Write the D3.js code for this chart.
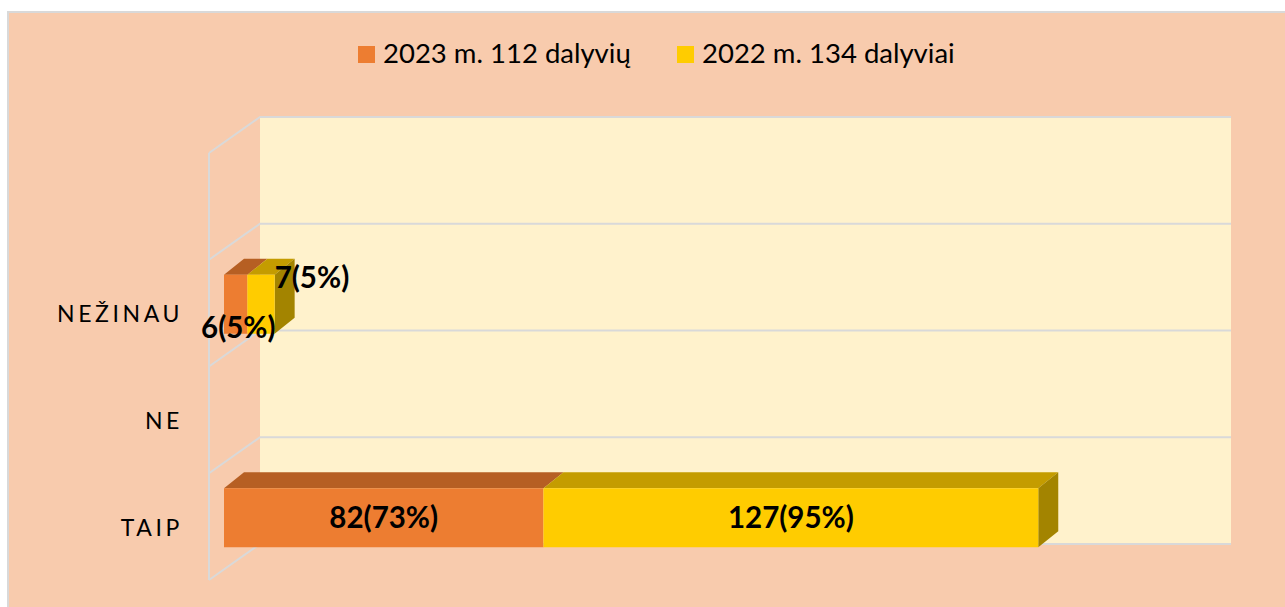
<!DOCTYPE html>
<html>
<head>
<meta charset="utf-8">
<script src="https://cdn.jsdelivr.net/npm/d3@7"></script>
<style>
  body { margin: 0; background: #fff; }
  svg { display: block; font-family: Lato, "Open Sans", sans-serif; }
</style>
</head>
<body>
<script>
// ---------------------------------------------------------------
// data
// ---------------------------------------------------------------
var categories = ["TAIP", "NE", "NEŽINAU"]
var seriesNames = ["2023 m. 112 dalyvių", "2022 m. 134 dalyviai"]
var values2023 = [82, 0, 6]
var values2022 = [127, 0, 7]
var labels2023 = ["82(73%)", "", "6(5%)"]
var labels2022 = ["127(95%)", "", "7(5%)"]
var valueMax = 250

var colors = [
  {front: "#ED7D31", top: "#B65F23", side: "#9E5222"},
  {front: "#FFCC00", top: "#C49C00", side: "#A38400"}
]

// ---------------------------------------------------------------
// layout
// ---------------------------------------------------------------
var W = 1285, H = 607
var wall = {x0: 260, x1: 1234, y0: 117, y1: 544}
var depth = {dx: -51, dy: 36}      // back wall -> front edge of side wall
var barFront = {dx: -36}           // bar front face, relative to back wall
var barDepth = {dx: 20, dy: -16}   // front face -> back face of a bar
var barOff = 15, barH = 59

var svg = d3.select("body").append("svg")
  .attr("width", W).attr("height", H)

svg.append("rect")
  .attr("x", 8).attr("y", 12).attr("width", W).attr("height", H)
  .attr("fill", "#F8CBAD").attr("stroke", "#D9D9D9").attr("stroke-width", 2)

var x = d3.scaleLinear().domain([0, valueMax]).range([wall.x0, wall.x1])

// 4 slots on the category axis, the top one stays empty
var slots = categories.concat([""])
var yBack = d3.scaleBand().domain(slots).range([wall.y1, wall.y0])
var yFront = d3.scaleBand().domain(slots).range([wall.y1 + depth.dy, wall.y0 + depth.dy])

// back wall
svg.append("rect")
  .attr("x", wall.x0).attr("y", wall.y0)
  .attr("width", x(valueMax) - wall.x0 - 3).attr("height", wall.y1 - wall.y0)
  .attr("fill", "#FFF2CC")

var lines = slots.map(function (d) { return yBack(d) }).concat([wall.y1])

var grid = svg.append("g").attr("stroke", "#D9D9D9").attr("stroke-width", 2).attr("fill", "none")
grid.selectAll("path.g").data(lines).enter().append("path")
  .attr("d", function (y) {
    return "M" + (x(valueMax) - 3) + "," + y + "H" + wall.x0 + "L" + (wall.x0 + depth.dx) + "," + (y + depth.dy)
  })
grid.append("path")
  .attr("d", "M" + (wall.x0 + depth.dx) + "," + (wall.y0 + depth.dy) + "V" + (wall.y1 + depth.dy))

// ---------------------------------------------------------------
// bars
// ---------------------------------------------------------------
var fx = function (v) { return x(v) + barFront.dx }

var segs = []
categories.forEach(function (c, i) {
  var a = values2023[i], b = values2022[i]
  segs.push({cat: c, s: 0, v0: 0, v1: a, last: b === 0})
  segs.push({cat: c, s: 1, v0: a, v1: a + b, last: true})
})
segs = segs.filter(function (d) { return d.v1 > d.v0 })

var bars = svg.append("g")
bars.selectAll("path.top").data(segs).enter().append("path")
  .attr("fill", function (d) { return colors[d.s].top })
  .attr("d", function (d) {
    var y = yFront(d.cat) + barOff, x0 = fx(d.v0), x1 = fx(d.v1)
    return "M" + x0 + "," + y + "L" + (x0 + barDepth.dx) + "," + (y + barDepth.dy) +
      "H" + (x1 + barDepth.dx) + "L" + x1 + "," + y + "Z"
  })
bars.selectAll("path.side").data(segs.filter(function (d) { return d.last })).enter().append("path")
  .attr("fill", function (d) { return colors[d.s].side })
  .attr("d", function (d) {
    var y = yFront(d.cat) + barOff, x1 = fx(d.v1)
    return "M" + x1 + "," + y + "L" + (x1 + barDepth.dx) + "," + (y + barDepth.dy) +
      "V" + (y + barDepth.dy + barH) + "L" + x1 + "," + (y + barH) + "Z"
  })
bars.selectAll("rect").data(segs).enter().append("rect")
  .attr("x", function (d) { return fx(d.v0) })
  .attr("y", function (d) { return yFront(d.cat) + barOff })
  .attr("width", function (d) { return fx(d.v1) - fx(d.v0) })
  .attr("height", barH)
  .attr("fill", function (d) { return colors[d.s].front })

// ---------------------------------------------------------------
// data labels
// ---------------------------------------------------------------
var lab = svg.append("g").attr("font-weight", "bold").attr("font-size", 29.5).attr("fill", "#000")
categories.forEach(function (c, i) {
  var a = values2023[i], b = values2022[i], y = yFront(c) + barOff
  if (a === 0 && b === 0) return
  if (fx(a + b) - fx(0) > 200) {
    lab.append("text").attr("text-anchor", "middle")
      .attr("x", (fx(0) + fx(a)) / 2).attr("y", y + barH / 2 + 10).text(labels2023[i])
    lab.append("text").attr("text-anchor", "middle")
      .attr("x", (fx(a) + fx(a + b)) / 2).attr("y", y + barH / 2 + 10).text(labels2022[i])
  } else {
    // small bars: labels spill out like in the original
    lab.append("text").attr("text-anchor", "end")
      .attr("x", fx(a + b) + 1).attr("y", y + barH + 4).text(labels2023[i])
    lab.append("text").attr("text-anchor", "start")
      .attr("x", fx(a + b)).attr("y", y + 13).text(labels2022[i])
  }
})

// category axis labels
svg.append("g").selectAll("text").data(categories).enter().append("text")
  .attr("x", 183).attr("y", function (d) { return yFront(d) + yFront.bandwidth() / 2 + 9 })
  .attr("text-anchor", "end")
  .attr("font-size", 23).attr("letter-spacing", 3.6).attr("fill", "#000")
  .text(function (d) { return d })

// ---------------------------------------------------------------
// legend
// ---------------------------------------------------------------
var legX = [358, 677]
var leg = svg.append("g").selectAll("g").data(seriesNames).enter().append("g")
  .attr("transform", function (d, i) { return "translate(" + legX[i] + ",46)" })
leg.append("rect").attr("width", 17).attr("height", 17)
  .attr("fill", function (d, i) { return colors[i].front })
leg.append("text").attr("x", 25).attr("y", 17).attr("font-size", 27.5).attr("fill", "#000")
  .text(function (d) { return d })
</script>
</body>
</html>
